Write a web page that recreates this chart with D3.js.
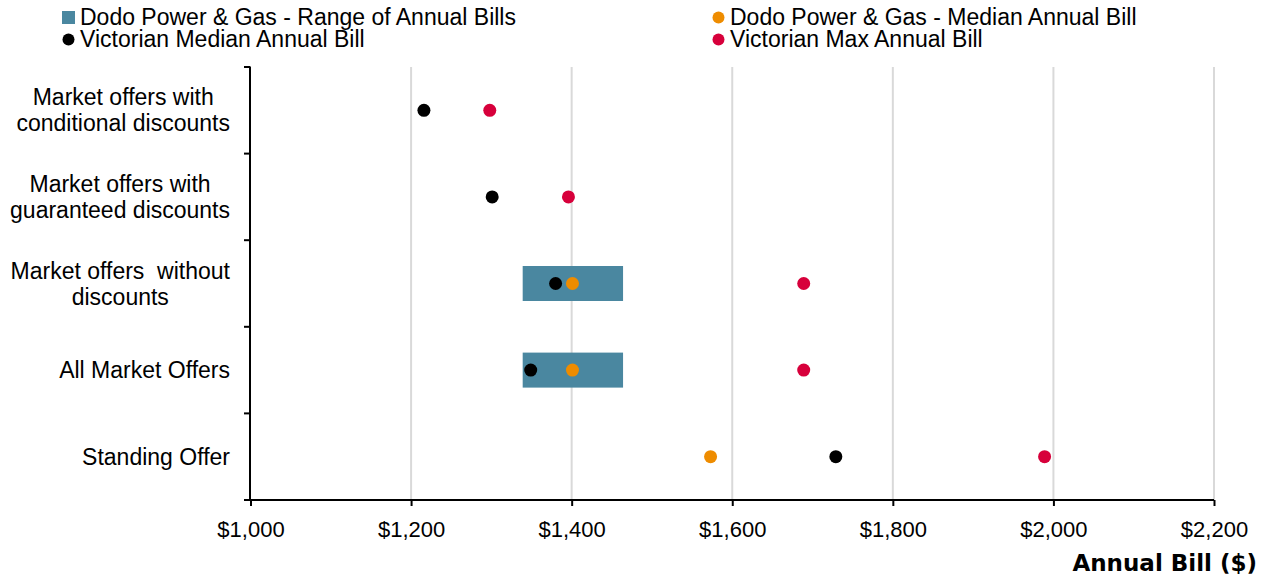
<!DOCTYPE html>
<html><head><meta charset="utf-8">
<script src="https://cdn.jsdelivr.net/npm/d3@7"></script>
<style>body{margin:0;background:#fff}text{font-family:"Liberation Sans",Arial,sans-serif}</style>
</head><body><svg id="c" width="1270" height="579"></svg>
<script>
const categories = [
  ["Market offers with","conditional discounts"],
  ["Market offers with","guaranteed discounts"],
  ["Market offers  without","discounts"],
  ["All Market Offers"],
  ["Standing Offer"]
];
const rangeLow  = [null, null, 1339, 1339, null];
const rangeHigh = [null, null, 1464, 1464, null];
const dodoMedian = [null, null, 1401, 1401, 1573];
const vicMedian  = [1216, 1301, 1380, 1349, 1729];
const vicMax     = [1298, 1396, 1689, 1689, 1989];
const xTicks = [1000,1200,1400,1600,1800,2000,2200];
const legendItems = [
  {label:"Dodo Power & Gas - Range of Annual Bills", color:"#4a87a0", shape:"square"},
  {label:"Dodo Power & Gas - Median Annual Bill", color:"#ee8c00", shape:"circle"},
  {label:"Victorian Median Annual Bill", color:"#000000", shape:"circle"},
  {label:"Victorian Max Annual Bill", color:"#d7003b", shape:"circle"}
];

(function(){
const svg = d3.select("#c");
const pL=250.5, pR=1214, pT=67, pB=500;
const x = d3.scaleLinear().domain([1000,2200]).range([pL,pR]);
const y = d3.scaleBand().domain(d3.range(categories.length)).range([pT,pB]);
const fmt = d => "$" + d3.format(",")(d);

// gridlines
svg.append("g").selectAll("line").data(xTicks.slice(1)).join("line")
  .attr("x1",d=>x(d)).attr("x2",d=>x(d)).attr("y1",pT).attr("y2",pB)
  .attr("stroke","#d9d9d9").attr("stroke-width",2);

// range bars
const bh = 35;
svg.append("g").selectAll("rect").data(d3.range(categories.length).filter(i=>rangeLow[i]!=null)).join("rect")
  .attr("x",i=>x(rangeLow[i])).attr("width",i=>x(rangeHigh[i])-x(rangeLow[i]))
  .attr("y",i=>y(i)+y.bandwidth()/2-bh/2).attr("height",bh)
  .attr("fill","#4a87a0");

// x axis
const xa = svg.append("g").attr("transform",`translate(0,${pB})`)
  .call(d3.axisBottom(x).tickValues(xTicks).tickFormat(fmt).tickSize(6).tickSizeOuter(0));
xa.select(".domain").attr("d",`M244,0H${pR}`).attr("stroke","#000").attr("stroke-width",2);
xa.selectAll(".tick line").attr("stroke","#000").attr("stroke-width",2);
xa.selectAll(".tick text").attr("font-size",22).attr("fill","#000").attr("y",37).attr("dy",0)
  .style("font-family","'Liberation Sans',Arial,sans-serif");

// y axis
svg.append("line").attr("x1",pL-0.5).attr("x2",pL-0.5).attr("y1",pT).attr("y2",pB)
  .attr("stroke","#000").attr("stroke-width",2);
const yt = d3.range(categories.length+1).map(i=> pT + i*y.step());
svg.append("g").selectAll("line").data(yt).join("line")
  .attr("x1",244).attr("x2",pL).attr("y1",d=>d).attr("y2",d=>d)
  .attr("stroke","#000").attr("stroke-width",2);

// category labels: block right-aligned at 230, lines centred within block
const cl = svg.append("g");
categories.forEach((lines,i)=>{
  const cy = y(i)+y.bandwidth()/2;
  const lh = 26;
  const t = cl.append("text").attr("text-anchor","middle").attr("font-size",23).attr("fill","#000")
    .style("white-space","pre");
  const spans = lines.map((s,j)=> t.append("tspan").attr("y", cy + (j-(lines.length-1)/2)*lh + 8).text(s));
  const w = d3.max(spans, sp => sp.node().getComputedTextLength());
  spans.forEach(sp => sp.attr("x", 230 - w/2));
});

// dots
const r = 6.5;
function dots(arr,color){
  svg.append("g").selectAll("circle").data(d3.range(arr.length).filter(i=>arr[i]!=null)).join("circle")
    .attr("cx",i=>x(arr[i])).attr("cy",i=>y(i)+y.bandwidth()/2).attr("r",r).attr("fill",color);
}
dots(vicMedian,"#000000");
dots(dodoMedian,"#ee8c00");
dots(vicMax,"#d7003b");

// axis title
svg.append("text").attr("x",1257).attr("y",571).attr("text-anchor","end")
  .attr("font-size",23).attr("font-weight","bold").attr("fill","#000")
  .style("font-family","'DejaVu Sans',Verdana,sans-serif").text("Annual Bill ($)");

// legend
const lpos = [[62,18],[712,18],[62,40],[712,40]];
legendItems.forEach((it,i)=>{
  const [lx,ly] = lpos[i];
  const g = svg.append("g");
  if(it.shape==="square") g.append("rect").attr("x",lx).attr("y",ly-7).attr("width",13).attr("height",13).attr("fill",it.color);
  else g.append("circle").attr("cx",lx+6.5).attr("cy",ly-0.5).attr("r",6).attr("fill",it.color);
  g.append("text").attr("x",lx+18).attr("y",ly+7).attr("font-size",23).attr("fill","#000").text(it.label);
});
})();
</script></body></html>
